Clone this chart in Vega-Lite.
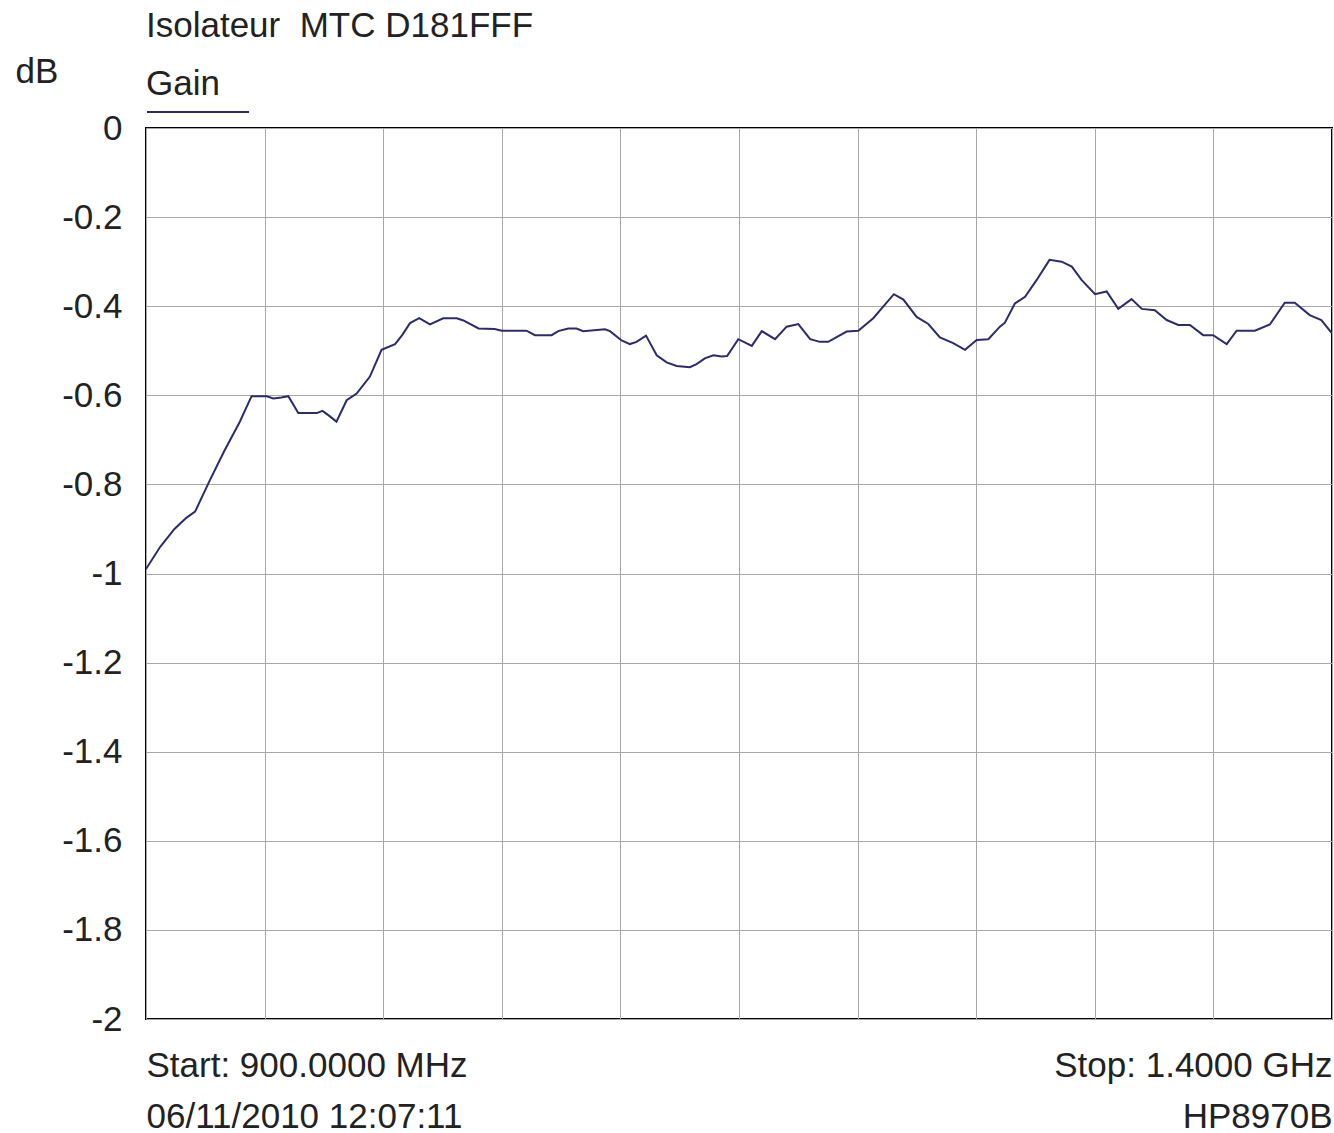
{
  "$schema": "https://vega.github.io/schema/vega-lite/v6.json",
  "width": 1186,
  "height": 891,
  "autosize": {"type": "none"},
  "padding": {"left": 146, "top": 128, "right": 2, "bottom": 114},
  "background": "white",
  "title": {
    "text": "Isolateur\u00a0 MTC D181FFF",
    "anchor": "start",
    "frame": "group",
    "fontSize": 35,
    "font": "Liberation Sans",
    "fontWeight": "normal",
    "color": "#222222",
    "offset": 10
  },
  "data": {
    "values": [
      {"f": 900, "g": -0.99}, {"f": 906, "g": -0.94}, {"f": 912, "g": -0.9}, {"f": 917, "g": -0.875},
      {"f": 920.7, "g": -0.861}, {"f": 927, "g": -0.79}, {"f": 933, "g": -0.725}, {"f": 939.5, "g": -0.66},
      {"f": 944.5, "g": -0.602}, {"f": 950.9, "g": -0.602}, {"f": 953.7, "g": -0.607}, {"f": 957, "g": -0.605},
      {"f": 960, "g": -0.602}, {"f": 964.2, "g": -0.64}, {"f": 972, "g": -0.64}, {"f": 974.4, "g": -0.635},
      {"f": 977, "g": -0.645}, {"f": 980.3, "g": -0.659}, {"f": 984.6, "g": -0.611}, {"f": 988.8, "g": -0.596},
      {"f": 994.4, "g": -0.558}, {"f": 999.3, "g": -0.498}, {"f": 1005, "g": -0.485}, {"f": 1008, "g": -0.465},
      {"f": 1011.3, "g": -0.438}, {"f": 1015.2, "g": -0.427}, {"f": 1019.7, "g": -0.441}, {"f": 1025.3, "g": -0.427},
      {"f": 1031, "g": -0.427}, {"f": 1033.8, "g": -0.432}, {"f": 1040.2, "g": -0.45}, {"f": 1047, "g": -0.451},
      {"f": 1050, "g": -0.455}, {"f": 1060.4, "g": -0.455}, {"f": 1064, "g": -0.465}, {"f": 1071, "g": -0.465},
      {"f": 1073.8, "g": -0.456}, {"f": 1078, "g": -0.45}, {"f": 1081.5, "g": -0.45}, {"f": 1084.3, "g": -0.456},
      {"f": 1093.5, "g": -0.452}, {"f": 1095.6, "g": -0.456}, {"f": 1100.5, "g": -0.477}, {"f": 1104, "g": -0.485},
      {"f": 1106.8, "g": -0.48}, {"f": 1110.8, "g": -0.466}, {"f": 1115.3, "g": -0.51}, {"f": 1119.5, "g": -0.526},
      {"f": 1123.7, "g": -0.534}, {"f": 1129.3, "g": -0.537}, {"f": 1132.1, "g": -0.53}, {"f": 1135.6, "g": -0.517},
      {"f": 1139.2, "g": -0.51}, {"f": 1142.7, "g": -0.513}, {"f": 1145, "g": -0.512}, {"f": 1149.7, "g": -0.474},
      {"f": 1155.4, "g": -0.489}, {"f": 1159.6, "g": -0.456}, {"f": 1165.2, "g": -0.474}, {"f": 1170.1, "g": -0.446},
      {"f": 1175, "g": -0.44}, {"f": 1180, "g": -0.474}, {"f": 1184.1, "g": -0.48}, {"f": 1187.6, "g": -0.48},
      {"f": 1195.4, "g": -0.457}, {"f": 1200.3, "g": -0.455}, {"f": 1206.6, "g": -0.427}, {"f": 1215.3, "g": -0.373},
      {"f": 1219.3, "g": -0.385}, {"f": 1224.9, "g": -0.424}, {"f": 1229.8, "g": -0.44}, {"f": 1234.7, "g": -0.47},
      {"f": 1240.3, "g": -0.483}, {"f": 1245.3, "g": -0.498}, {"f": 1250.2, "g": -0.476}, {"f": 1255.1, "g": -0.474},
      {"f": 1260, "g": -0.446}, {"f": 1262.1, "g": -0.437}, {"f": 1266.3, "g": -0.394}, {"f": 1270.6, "g": -0.379},
      {"f": 1275.5, "g": -0.341}, {"f": 1280.9, "g": -0.296}, {"f": 1286, "g": -0.3}, {"f": 1290.3, "g": -0.311},
      {"f": 1294.4, "g": -0.341}, {"f": 1300.1, "g": -0.373}, {"f": 1305, "g": -0.367}, {"f": 1309.9, "g": -0.406},
      {"f": 1315.5, "g": -0.384}, {"f": 1319.8, "g": -0.406}, {"f": 1325.3, "g": -0.409}, {"f": 1330.3, "g": -0.431},
      {"f": 1335.2, "g": -0.442}, {"f": 1340.1, "g": -0.442}, {"f": 1345.7, "g": -0.465}, {"f": 1349.9, "g": -0.465},
      {"f": 1355.6, "g": -0.485}, {"f": 1359.8, "g": -0.455}, {"f": 1367.5, "g": -0.455}, {"f": 1373.8, "g": -0.441},
      {"f": 1380.1, "g": -0.392}, {"f": 1384.3, "g": -0.392}, {"f": 1390.6, "g": -0.42}, {"f": 1395.5, "g": -0.431},
      {"f": 1400, "g": -0.461}
    ]
  },
  "mark": {"type": "line", "strokeWidth": 2, "interpolate": "linear", "clip": true},
  "encoding": {
    "x": {
      "field": "f",
      "type": "quantitative",
      "scale": {"domain": [900, 1400], "nice": false, "zero": false},
      "axis": {
        "title": null,
        "values": [900, 950, 1000, 1050, 1100, 1150, 1200, 1250, 1300, 1350, 1400],
        "grid": true,
        "gridColor": "#a8a8a8",
        "gridWidth": 1,
        "gridOpacity": 1,
        "ticks": false,
        "tickSize": 0,
        "domain": false,
        "labelFlush": true,
        "labelOverlap": false,
        "labelBound": false,
        "labelLimit": 0,
        "labelExpr": "datum.value == 900 ? ['Start: 900.0000 MHz', '06/11/2010 12:07:11'] : datum.value == 1400 ? ['Stop: 1.4000 GHz', 'HP8970B'] : ''",
        "labelFontSize": 35,
        "labelFont": "Liberation Sans",
        "labelColor": "#222222",
        "labelBaseline": "top",
        "labelLineHeight": 51,
        "labelPadding": 29
      }
    },
    "y": {
      "field": "g",
      "type": "quantitative",
      "scale": {"domain": [-2, 0], "nice": false, "zero": false},
      "axis": {
        "title": "dB",
        "titleAngle": 0,
        "titleAlign": "left",
        "titleBaseline": "alphabetic",
        "titleX": -131,
        "titleY": -46,
        "titleFontSize": 35,
        "titleFont": "Liberation Sans",
        "titleFontWeight": "normal",
        "titleColor": "#222222",
        "values": [0, -0.2, -0.4, -0.6, -0.8, -1, -1.2, -1.4, -1.6, -1.8, -2],
        "grid": true,
        "gridColor": "#a8a8a8",
        "gridWidth": 1,
        "gridOpacity": 1,
        "ticks": false,
        "tickSize": 0,
        "domain": false,
        "labelOverlap": false,
        "labelBound": false,
        "labelLimit": 0,
        "labelExpr": "datum.value == 0 ? '0' : '-' + format(-datum.value, '~g')",
        "labelFontSize": 35,
        "labelFont": "Liberation Sans",
        "labelColor": "#222222",
        "labelPadding": 24
      }
    },
    "color": {
      "datum": "Gain",
      "type": "nominal",
      "scale": {"range": ["#2b2b6e"]},
      "legend": {
        "orient": "none",
        "legendX": 0,
        "legendY": -61,
        "title": "Gain",
        "titleFontSize": 35,
        "titleFont": "Liberation Sans",
        "titleFontWeight": "normal",
        "titleColor": "#222222",
        "titlePadding": -42,
        "labelExpr": "''",
        "symbolType": "stroke",
        "symbolSize": 10404,
        "symbolStrokeWidth": 2,
        "symbolOffset": 0,
        "padding": 0
      }
    }
  },
  "config": {
    "view": {"stroke": "#000000", "strokeWidth": 2},
    "font": "Liberation Sans"
  }
}
